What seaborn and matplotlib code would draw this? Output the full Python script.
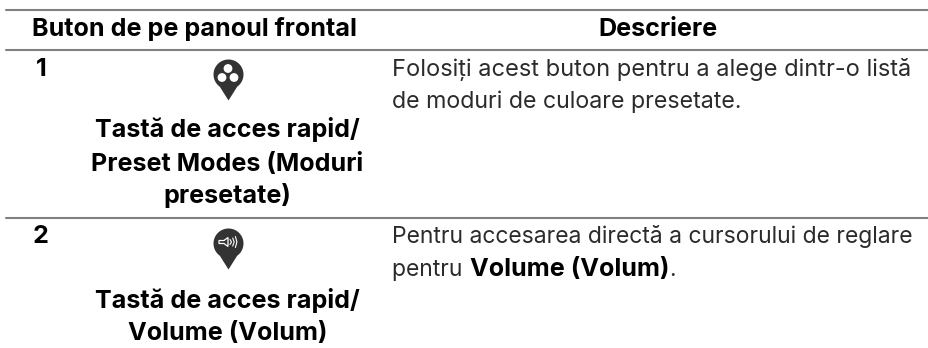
import matplotlib
matplotlib.use("Agg")
import matplotlib.pyplot as plt
import seaborn as sns
import numpy as np
import pandas as pd
from matplotlib.path import Path
from matplotlib.patches import Circle, Polygon

sns.set_theme(style="white")
plt.rcParams["font.family"] = ["Inter", "DejaVu Sans"]

headers = ["Buton de pe panoul frontal", "Descriere"]
row_numbers = ["1", "2"]
row_1_labels = ["Tastă de acces rapid/", "Preset Modes (Moduri", "presetate)"]
row_2_labels = ["Tastă de acces rapid/", "Volume (Volum)"]
row_1_desc = ["Folosiți acest buton pentru a alege dintr-o listă", "de moduri de culoare presetate."]
row_2_desc = ["Pentru accesarea directă a cursorului de reglare", "pentru "]
row_2_bold = "Volume (Volum)"
row_2_end = "."

W, H = 929, 348
FS_BOLD = 18.1
RULE = "#808080"
PIN = "#333333"
TEXT = "#2b2b2b"

fig = plt.figure(figsize=(W / 100, H / 100), dpi=100)
ax = fig.add_axes([0, 0, 1, 1])

# horizontal table rules
for y in [10, 50, 218]:
    rule = pd.DataFrame({"x": [6, W], "y": [y, y]})
    sns.lineplot(data=rule, x="x", y="y", color=RULE, linewidth=1.5, ax=ax, legend=False)

# pins first so the axes limits are final before the text gets measured
tip = 26
radius = 15
start = np.arcsin(radius / tip) - np.pi / 2
arc = np.linspace(start, np.pi - start, 60)
verts = [(0, -tip)] + [(radius * np.cos(a), radius * np.sin(a)) for a in arc] + [(0, -tip)]
pin_marker = Path(verts, closed=True)
pins = pd.DataFrame({"x": [228, 228], "y": [74, 243]})
sns.scatterplot(data=pins, x="x", y="y", marker=pin_marker, s=1402, color=PIN, linewidth=0, ax=ax, legend=False)

ax.set_xlim(0, W)
ax.set_ylim(H, 0)
ax.axis("off")


def bold(x, y, s, ha="center"):
    return ax.text(x, y, s, ha=ha, va="baseline", fontsize=FS_BOLD, fontweight="bold", color="black")


def plain(x, y, s, size=16.9):
    return ax.text(x, y, s, ha="left", va="baseline", fontsize=size, color=TEXT)


bold(194, 36, headers[0])
bold(658, 36, headers[1])
bold(36, 76, row_numbers[0], ha="left")
bold(33, 243, row_numbers[1], ha="left")

for y, s in zip([137.5, 170.5, 202.5], row_1_labels):
    bold(227.5, y, s)
for y, s in zip([308, 340], row_2_labels):
    bold(227.5, y, s)

plain(392, 76, row_1_desc[0], size=17.0)
plain(392, 108, row_1_desc[1], size=16.7)
plain(392, 243, row_2_desc[0], size=16.5)

# last line mixes regular and bold, keep them on one baseline
renderer = fig.canvas.get_renderer()
last = plain(392, 276, row_2_desc[1], size=16.5)
x_bold = ax.transData.inverted().transform((last.get_window_extent(renderer).x1, 0))[0]
tail = bold(x_bold + 1, 276, row_2_bold, ha="left")
x_end = ax.transData.inverted().transform((tail.get_window_extent(renderer).x1, 0))[0]
plain(x_end, 276, row_2_end, size=16.5)

for cx, cy in [(228, 68.5), (222, 77.5), (234, 77.5)]:
    ax.add_patch(Circle((cx, cy), 4.4, facecolor="white", edgecolor="none", zorder=5))

# speaker glyph on second pin
ax.add_patch(Polygon([(219, 240.5), (224, 240.5), (228, 237.5), (228, 246.5), (224, 243.5), (219, 243.5)],
                     closed=True, fill=False, edgecolor="white", linewidth=0.9, zorder=5))
for off, h in [(0, 2.5), (2.7, 4), (5.4, 5.5)]:
    ax.plot([230 + off, 231.5 + off, 230 + off], [242 - h, 242, 242 + h],
            color="white", linewidth=0.8, zorder=5)

fig.savefig("out.png", dpi=100)
